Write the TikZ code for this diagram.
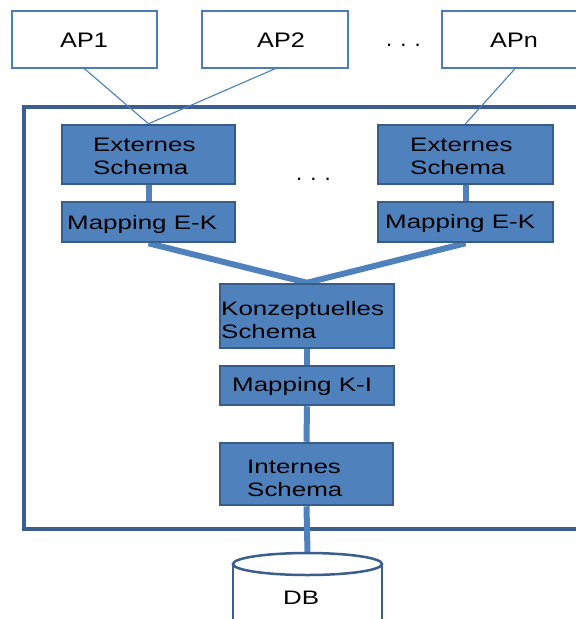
\documentclass[tikz,border=0pt]{standalone}
\usepackage{fontspec}
\setmainfont{Liberation Sans}
\newfontfamily\boxfont[FakeStretch=1.33]{Liberation Sans}
\newfontfamily\apfont[FakeStretch=1.2]{Liberation Sans}
\usetikzlibrary{backgrounds,fit}
\definecolor{boxfill}{HTML}{4F81BD}
\definecolor{boxline}{HTML}{385D8A}
\definecolor{frameline}{HTML}{3A5F8E}
\definecolor{apline}{HTML}{4A7EBB}

\begin{document}
\begin{tikzpicture}[x=1pt,y=-1pt,
  schemabox/.style={draw=boxline, line width=2.5pt, fill=boxfill, rectangle, inner sep=0pt},
  apbox/.style={draw=apline, line width=1.5pt, fill=white, rectangle, inner sep=0pt},
  boxtext/.style={inner sep=0pt, align=left, font=\boxfont\fontsize{19.5}{23}\selectfont},
  aptext/.style={inner sep=0pt, font=\apfont\fontsize{21}{25}\selectfont},
  dots/.style={inner sep=0pt, anchor=base west, font=\fontsize{22}{24}\selectfont},
  link/.style={draw=boxfill, line width=6pt},
  aplink/.style={draw=apline, line width=1.1pt},
  frame/.style={draw=frameline, line width=3.5pt},
  dbline/.style={draw=frameline, line width=2.5pt},
]
\useasboundingbox (0,0) rectangle (576,619);

% application programs
\node[apbox, fit={(12,11) (157,68)}] (ap1) {};
\node[apbox, fit={(202,11) (348,68)}] (ap2) {};
\node[apbox, fit={(442,11) (588,68)}] (apn) {};
\node[aptext, anchor=base west] (ap1t) at (60,47) {AP1};
\node[aptext, anchor=base west] (ap2t) at (257,47) {AP2};
\node[aptext, anchor=base west] (apnt) at (490,47) {APn};
\node[dots] (dotstop) at (386,46) {. . .};

% schema levels
\node[schemabox, fit={(62,125) (235,184)}] (ext1) {};
\node[schemabox, fit={(62,202) (235,242)}] (map1) {};
\node[schemabox, fit={(378,125) (553,184)}] (ext2) {};
\node[schemabox, fit={(378,202) (553,242)}] (map2) {};
\node[schemabox, fit={(220,284) (394,348)}] (konz) {};
\node[schemabox, fit={(220,366) (394,405)}] (mapki) {};
\node[schemabox, fit={(220,443) (393,505)}] (int) {};

\node[boxtext, anchor=north west] (ext1t) at (93,138) {Externes\\Schema};
\node[boxtext, anchor=north west] (ext2t) at (410,138) {Externes\\Schema};
\node[boxtext, anchor=base west] (map1t) at (67,229) {Mapping E-K};
\node[boxtext, anchor=base west] (map2t) at (385,228) {Mapping E-K};
\node[boxtext, anchor=north west] (konzt) at (221,301) {Konzeptuelles\\Schema};
\node[boxtext, anchor=base west] (mapkit) at (232,391) {Mapping K-I};
\node[boxtext, anchor=north west] (intt) at (247,460) {Internes\\Schema};
\node[dots] (dotsmid) at (296,180) {. . .};

% database cylinder
\fill[white] (233,564) rectangle (382,630);
\draw[dbline] (233,564) -- (233,630);
\draw[dbline] (382,564) -- (382,630);
\draw[dbline, fill=white] (307.5,564) ellipse[x radius=74.5, y radius=11];
\coordinate (dbtop) at (307.5,553);
\node[boxtext, anchor=base west] (db) at (283,604) {DB};

\begin{scope}[on background layer]
  \draw[frame] (24,107) rectangle (600,529);
  \draw[aplink] (ap1.south) -- (ext1.north);
  \draw[aplink] (ap2.south) -- (ext1.north);
  \draw[aplink] (apn.south) -- (ext2.north);
  \draw[link] (ext1.south) -- (map1.north);
  \draw[link] (ext2.south) -- (map2.north);
  \draw[link] (map1.south) -- (konz.north);
  \draw[link] (map2.south) -- (konz.north);
  \draw[link] (konz.south) -- (mapki.north);
  \draw[link] (mapki.south) -- (int.north);
  \draw[link] (int.south) -- (dbtop);
\end{scope}
\end{tikzpicture}
\end{document}
